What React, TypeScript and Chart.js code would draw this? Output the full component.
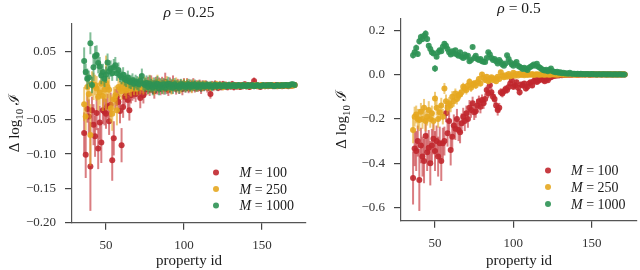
import React, { useEffect, useRef } from 'react';
import { Chart, registerables } from 'chart.js';
Chart.register(...registerables);

// ---------- DATA ----------
const FIRST_ID = 36;
const LAST_ID = 171;
const propertyIds: number[] = [];
for (let id = FIRST_ID; id <= LAST_ID; id++) propertyIds.push(id);

const seriesNames = ['100', '250', '1000'];
const xTickValues = [50, 100, 150];
const leftYTicks = [-0.2, -0.15, -0.1, -0.05, 0.0, 0.05];
const rightYTicks = [-0.6, -0.4, -0.2, 0.0, 0.2];

// rho = 0.25
const redL = [
  -0.069, -0.101, -0.034, -0.045, -0.118, -0.036, -0.057, -0.074, -0.040, -0.092,
  -0.054, -0.083, -0.036, -0.038, -0.041, -0.030, -0.052, -0.028, -0.109, -0.077,
  -0.020, -0.016, -0.024, -0.037, -0.087, -0.031, -0.016, -0.012, -0.021, -0.036,
  -0.014, -0.010, -0.008, -0.012, -0.005, -0.009, -0.018, -0.003, -0.014, -0.006,
  -0.004, 0.002, -0.006, 0.003, -0.002, -0.008, 0.004, -0.003, 0.001, -0.005,
  0.003, -0.004, 0.005, -0.002, -0.006, 0.002, -0.003, 0.004, -0.001, -0.004,
  0.002, -0.003, 0.001, -0.005, 0.003, -0.002, 0.002, -0.004, 0.001, -0.002,
  0.003, -0.003, 0.000, -0.002, 0.002, -0.004, 0.001, -0.001, 0.002, -0.003,
  -0.002, -0.012, 0.001, -0.002, 0.002, -0.001, -0.003, 0.001, -0.002, 0.002,
  -0.001, 0.001, -0.002, 0.000, -0.001, 0.002, -0.002, 0.001, -0.001, 0.000,
  -0.002, 0.001, -0.001, 0.002, -0.001, 0.000, -0.002, 0.001, 0.000, 0.007,
  0.001, -0.001, 0.000, -0.002, 0.001, 0.000, -0.001, 0.001, -0.001, 0.000,
  0.001, -0.001, 0.000, 0.001, -0.001, 0.000, 0.001, -0.001, 0.000, 0.001,
  0.000, -0.001, 0.001, 0.000, 0.001, 0.001,
];
const redLErr = [
  0.030, 0.034, 0.020, 0.025, 0.065, 0.020, 0.030, 0.030, 0.025, 0.030,
  0.025, 0.030, 0.020, 0.020, 0.022, 0.018, 0.020, 0.018, 0.030, 0.025,
  0.015, 0.014, 0.016, 0.018, 0.025, 0.016, 0.012, 0.012, 0.013, 0.015,
  0.012, 0.012, 0.011, 0.012, 0.011, 0.010, 0.015, 0.010, 0.012, 0.010,
  0.010, 0.011, 0.009, 0.012, 0.010, 0.011, 0.009, 0.010, 0.011, 0.009,
  0.010, 0.009, 0.014, 0.010, 0.009, 0.010, 0.009, 0.011, 0.008, 0.009,
  0.008, 0.009, 0.008, 0.009, 0.008, 0.008, 0.009, 0.007, 0.008, 0.008,
  0.008, 0.007, 0.008, 0.007, 0.007, 0.008, 0.007, 0.007, 0.006, 0.007,
  0.006, 0.007, 0.006, 0.006, 0.006, 0.006, 0.005, 0.006, 0.005, 0.005,
  0.005, 0.005, 0.005, 0.005, 0.005, 0.005, 0.005, 0.004, 0.005, 0.004,
  0.004, 0.004, 0.004, 0.004, 0.004, 0.004, 0.004, 0.004, 0.004, 0.005,
  0.004, 0.004, 0.004, 0.003, 0.004, 0.003, 0.003, 0.004, 0.003, 0.003,
  0.003, 0.003, 0.003, 0.003, 0.003, 0.003, 0.003, 0.003, 0.003, 0.003,
  0.003, 0.003, 0.003, 0.003, 0.003, 0.003,
];
const yellowL = [
  -0.027, -0.045, -0.002, -0.012, -0.072, 0.003, -0.001, 0.001, -0.004, -0.016,
  -0.010, 0.003, -0.015, -0.006, 0.004, -0.002, -0.006, -0.033, -0.041, -0.020,
  -0.014, -0.036, -0.002, -0.005, -0.008, 0.002, -0.004, -0.007, 0.001, -0.003,
  -0.005, 0.002, -0.003, 0.001, -0.004, 0.003, -0.002, 0.002, -0.003, 0.004,
  0.002, -0.003, 0.004, -0.001, 0.003, -0.004, 0.001, 0.005, -0.002, 0.002,
  -0.003, 0.003, -0.001, 0.004, -0.002, 0.001, -0.004, 0.002, 0.000, 0.003,
  -0.002, 0.002, -0.003, 0.001, 0.002, -0.002, 0.003, -0.001, 0.001, -0.003,
  0.002, 0.000, -0.002, 0.002, -0.001, 0.001, -0.002, 0.002, 0.000, -0.001,
  0.001, -0.002, 0.001, 0.000, -0.001, 0.002, -0.001, 0.001, 0.000, -0.002,
  0.001, 0.000, -0.001, 0.001, 0.000, -0.001, 0.001, 0.000, -0.001, 0.001,
  0.000, -0.001, 0.001, 0.000, -0.001, 0.001, 0.000, -0.001, 0.000, 0.001,
  0.000, 0.001, -0.001, 0.000, 0.001, 0.000, -0.001, 0.000, 0.001, 0.000,
  0.000, 0.001, 0.000, -0.001, 0.000, 0.001, 0.000, 0.000, 0.001, 0.000,
  0.001, 0.000, 0.000, 0.001, 0.000, 0.001,
];
const yellowLErr = [
  0.025, 0.020, 0.020, 0.018, 0.045, 0.018, 0.020, 0.015, 0.018, 0.020,
  0.018, 0.020, 0.022, 0.018, 0.040, 0.016, 0.018, 0.020, 0.025, 0.018,
  0.014, 0.022, 0.013, 0.012, 0.013, 0.012, 0.011, 0.012, 0.011, 0.011,
  0.011, 0.010, 0.011, 0.010, 0.010, 0.010, 0.010, 0.009, 0.010, 0.009,
  0.009, 0.010, 0.012, 0.009, 0.009, 0.010, 0.009, 0.011, 0.009, 0.008,
  0.009, 0.008, 0.009, 0.010, 0.008, 0.008, 0.009, 0.008, 0.008, 0.009,
  0.008, 0.007, 0.008, 0.007, 0.008, 0.007, 0.007, 0.007, 0.007, 0.008,
  0.007, 0.006, 0.007, 0.006, 0.006, 0.006, 0.006, 0.006, 0.006, 0.006,
  0.005, 0.006, 0.005, 0.005, 0.005, 0.005, 0.005, 0.005, 0.005, 0.005,
  0.005, 0.004, 0.004, 0.004, 0.004, 0.004, 0.004, 0.004, 0.004, 0.004,
  0.004, 0.004, 0.004, 0.004, 0.004, 0.004, 0.004, 0.003, 0.004, 0.003,
  0.003, 0.004, 0.003, 0.003, 0.003, 0.003, 0.003, 0.003, 0.003, 0.003,
  0.003, 0.003, 0.003, 0.003, 0.003, 0.003, 0.003, 0.003, 0.003, 0.003,
  0.003, 0.003, 0.003, 0.003, 0.003, 0.003,
];
const greenL = [
  0.036, 0.020, 0.010, 0.012, 0.062, 0.001, 0.027, 0.043, 0.045, 0.033,
  0.028, 0.015, 0.020, 0.010, 0.016, 0.034, 0.021, 0.025, 0.018, 0.027,
  0.030, 0.018, 0.023, 0.015, 0.012, 0.016, 0.010, 0.008, 0.012, 0.006,
  0.005, 0.008, 0.003, 0.006, 0.004, 0.002, 0.007, 0.014, 0.003, 0.001,
  0.004, -0.002, 0.003, 0.000, -0.003, 0.002, -0.001, 0.003, -0.004, 0.001,
  -0.002, 0.002, -0.003, 0.001, 0.003, -0.002, 0.001, -0.003, 0.002, -0.001,
  0.000, -0.003, 0.002, -0.001, 0.001, -0.002, 0.000, 0.002, -0.002, 0.001,
  -0.001, 0.002, -0.002, 0.000, 0.001, -0.002, 0.001, -0.001, 0.000, 0.001,
  -0.001, 0.001, -0.002, 0.000, 0.001, -0.001, 0.000, 0.001, -0.001, 0.000,
  0.001, -0.001, 0.000, 0.001, -0.001, 0.000, 0.001, -0.001, 0.000, 0.001,
  0.000, -0.001, 0.001, 0.000, -0.001, 0.001, 0.000, 0.000, 0.001, -0.001,
  0.000, 0.001, 0.000, -0.001, 0.000, 0.001, 0.000, 0.000, 0.001, 0.000,
  0.001, 0.000, -0.001, 0.000, 0.001, 0.000, 0.000, 0.001, 0.000, 0.001,
  0.001, 0.000, 0.001, 0.002, 0.002, 0.001,
];
const greenLErr = [
  0.020, 0.012, 0.015, 0.010, 0.016, 0.012, 0.020, 0.015, 0.014, 0.015,
  0.014, 0.013, 0.012, 0.012, 0.012, 0.013, 0.011, 0.012, 0.011, 0.012,
  0.012, 0.011, 0.011, 0.010, 0.010, 0.011, 0.010, 0.010, 0.010, 0.010,
  0.010, 0.010, 0.010, 0.010, 0.010, 0.010, 0.010, 0.011, 0.010, 0.010,
  0.011, 0.010, 0.012, 0.010, 0.011, 0.010, 0.010, 0.011, 0.010, 0.010,
  0.010, 0.009, 0.010, 0.009, 0.010, 0.009, 0.009, 0.009, 0.009, 0.009,
  0.008, 0.009, 0.008, 0.008, 0.008, 0.008, 0.008, 0.008, 0.007, 0.008,
  0.007, 0.007, 0.007, 0.007, 0.007, 0.007, 0.006, 0.007, 0.006, 0.006,
  0.006, 0.006, 0.006, 0.006, 0.005, 0.006, 0.005, 0.005, 0.005, 0.005,
  0.005, 0.005, 0.005, 0.005, 0.004, 0.005, 0.004, 0.004, 0.004, 0.004,
  0.004, 0.004, 0.004, 0.004, 0.004, 0.004, 0.004, 0.004, 0.003, 0.004,
  0.003, 0.003, 0.003, 0.003, 0.003, 0.003, 0.003, 0.003, 0.003, 0.003,
  0.003, 0.003, 0.003, 0.003, 0.003, 0.003, 0.003, 0.003, 0.003, 0.003,
  0.003, 0.003, 0.003, 0.003, 0.003, 0.003,
];

// rho = 0.5
const redR = [
  -0.466, -0.333, -0.345, -0.300, -0.475, -0.320, -0.370, -0.390, -0.277, -0.350,
  -0.330, -0.400, -0.320, -0.290, -0.345, -0.300, -0.370, -0.310, -0.390, -0.310,
  -0.300, -0.175, -0.265, -0.210, -0.340, -0.280, -0.230, -0.245, -0.200, -0.250,
  -0.260, -0.220, -0.190, -0.210, -0.175, -0.200, -0.150, -0.160, -0.130, -0.170,
  -0.165, -0.140, -0.120, -0.145, -0.115, -0.130, -0.110, -0.070, -0.085, -0.048,
  -0.080, -0.100, -0.110, -0.140, -0.160, -0.150, -0.080, -0.085, -0.075, -0.065,
  -0.070, -0.056, -0.040, -0.026, -0.055, -0.048, -0.035, -0.060, -0.080, -0.045,
  -0.050, -0.040, -0.063, -0.055, -0.040, -0.035, -0.050, -0.030, -0.020, -0.034,
  -0.028, -0.022, -0.020, -0.025, -0.030, -0.018, -0.026, -0.015, -0.012, -0.008,
  -0.005, -0.006, -0.003, -0.004, -0.002, -0.003, -0.001, -0.002, 0.000, -0.001,
  0.000, -0.001, 0.000, 0.001, 0.000, -0.001, 0.000, 0.000, 0.001, 0.000,
  0.000, 0.001, 0.000, -0.001, 0.000, 0.000, 0.001, 0.000, 0.000, 0.001,
  0.000, 0.000, 0.001, 0.000, 0.000, 0.001, 0.000, 0.000, 0.001, 0.000,
  0.000, 0.001, 0.000, 0.000, 0.001, 0.000,
];
const redRErr = [
  0.120, 0.080, 0.090, 0.070, 0.140, 0.080, 0.090, 0.100, 0.070, 0.085,
  0.080, 0.100, 0.075, 0.070, 0.090, 0.070, 0.090, 0.075, 0.090, 0.070,
  0.065, 0.040, 0.060, 0.050, 0.070, 0.055, 0.050, 0.050, 0.045, 0.050,
  0.050, 0.045, 0.040, 0.045, 0.035, 0.040, 0.035, 0.035, 0.030, 0.035,
  0.030, 0.030, 0.025, 0.030, 0.025, 0.025, 0.025, 0.020, 0.022, 0.018,
  0.020, 0.022, 0.022, 0.025, 0.025, 0.022, 0.018, 0.018, 0.016, 0.016,
  0.016, 0.014, 0.012, 0.012, 0.014, 0.013, 0.012, 0.014, 0.015, 0.012,
  0.012, 0.011, 0.013, 0.012, 0.010, 0.010, 0.011, 0.009, 0.008, 0.009,
  0.008, 0.008, 0.007, 0.008, 0.008, 0.007, 0.008, 0.006, 0.006, 0.005,
  0.004, 0.004, 0.004, 0.004, 0.004, 0.004, 0.004, 0.004, 0.004, 0.004,
  0.004, 0.004, 0.003, 0.003, 0.003, 0.003, 0.003, 0.003, 0.003, 0.003,
  0.003, 0.003, 0.003, 0.003, 0.003, 0.003, 0.003, 0.003, 0.003, 0.003,
  0.003, 0.003, 0.003, 0.003, 0.003, 0.003, 0.003, 0.003, 0.003, 0.003,
  0.003, 0.003, 0.003, 0.003, 0.003, 0.003,
];
const yellowR = [
  -0.250, -0.190, -0.180, -0.200, -0.205, -0.168, -0.200, -0.150, -0.210, -0.190,
  -0.160, -0.200, -0.175, -0.210, -0.108, -0.150, -0.200, -0.170, -0.140, -0.190,
  -0.063, -0.120, -0.150, -0.130, -0.140, -0.100, -0.120, -0.085, -0.110, -0.095,
  -0.090, -0.080, -0.055, -0.063, -0.070, -0.050, -0.033, -0.060, -0.045, -0.040,
  -0.050, -0.035, -0.020, -0.040, 0.000, -0.015, -0.025, -0.010, -0.030, -0.020,
  -0.012, -0.025, -0.018, -0.030, -0.010, -0.020, 0.010, -0.005, -0.012, -0.003,
  -0.010, 0.002, -0.008, -0.004, 0.008, -0.006, 0.002, -0.004, 0.003, -0.002,
  0.001, -0.003, 0.002, -0.002, 0.001, -0.001, 0.002, -0.002, 0.000, 0.001,
  0.000, -0.001, 0.001, 0.000, -0.001, 0.001, 0.000, -0.001, 0.000, 0.001,
  0.000, 0.000, -0.001, 0.000, 0.001, 0.000, 0.000, -0.001, 0.000, 0.000,
  0.001, 0.000, 0.000, 0.000, -0.001, 0.000, 0.001, 0.000, 0.000, 0.000,
  0.000, 0.001, 0.000, 0.000, 0.000, 0.001, 0.000, 0.000, 0.000, 0.001,
  0.000, 0.000, 0.001, 0.000, 0.000, 0.000, 0.001, 0.000, 0.000, 0.000,
  0.001, 0.000, 0.000, 0.000, 0.001, 0.000,
];
const yellowRErr = [
  0.060, 0.045, 0.040, 0.045, 0.050, 0.040, 0.045, 0.040, 0.045, 0.040,
  0.040, 0.040, 0.035, 0.040, 0.030, 0.035, 0.040, 0.035, 0.035, 0.035,
  0.025, 0.030, 0.030, 0.028, 0.030, 0.025, 0.025, 0.022, 0.025, 0.022,
  0.022, 0.020, 0.018, 0.020, 0.020, 0.018, 0.016, 0.018, 0.016, 0.015,
  0.015, 0.014, 0.012, 0.014, 0.012, 0.012, 0.013, 0.011, 0.012, 0.011,
  0.010, 0.011, 0.010, 0.011, 0.010, 0.010, 0.010, 0.009, 0.009, 0.008,
  0.008, 0.007, 0.008, 0.007, 0.008, 0.007, 0.006, 0.006, 0.006, 0.006,
  0.005, 0.005, 0.005, 0.005, 0.005, 0.004, 0.004, 0.004, 0.004, 0.004,
  0.003, 0.003, 0.003, 0.003, 0.003, 0.003, 0.003, 0.003, 0.003, 0.003,
  0.003, 0.003, 0.003, 0.003, 0.003, 0.003, 0.003, 0.003, 0.003, 0.003,
  0.003, 0.003, 0.003, 0.003, 0.003, 0.003, 0.003, 0.003, 0.003, 0.003,
  0.003, 0.003, 0.003, 0.003, 0.003, 0.003, 0.003, 0.003, 0.003, 0.003,
  0.003, 0.003, 0.003, 0.003, 0.003, 0.003, 0.003, 0.003, 0.003, 0.003,
  0.003, 0.003, 0.003, 0.003, 0.003, 0.003,
];
const greenR = [
  0.087, 0.100, 0.120, 0.092, 0.150, 0.169, 0.160, 0.175, 0.184, 0.160,
  0.130, 0.115, 0.100, 0.095, 0.027, 0.080, 0.100, 0.110, 0.105, 0.125,
  0.139, 0.130, 0.115, 0.100, 0.090, 0.105, 0.095, 0.110, 0.090, 0.085,
  0.100, 0.080, 0.075, 0.090, 0.080, 0.085, 0.060, 0.065, 0.124, 0.075,
  0.085, 0.070, 0.065, 0.070, 0.060, 0.058, 0.057, 0.075, 0.100, 0.090,
  0.075, 0.065, 0.070, 0.060, 0.050, 0.065, 0.055, 0.045, 0.040, 0.050,
  0.087, 0.070, 0.055, 0.045, 0.040, 0.050, 0.057, 0.040, 0.035, 0.030,
  0.025, 0.030, 0.025, 0.020, 0.030, 0.035, 0.040, 0.045, 0.040, 0.049,
  0.035, 0.030, 0.025, 0.020, 0.018, 0.022, 0.015, 0.020, 0.027, 0.015,
  0.012, 0.010, 0.012, 0.008, 0.010, 0.006, 0.008, 0.005, 0.006, 0.004,
  0.008, 0.004, 0.003, 0.004, 0.002, 0.003, 0.002, 0.003, 0.001, 0.002,
  0.001, 0.002, 0.001, 0.001, 0.002, 0.001, 0.001, 0.000, 0.001, 0.001,
  0.000, 0.001, 0.001, 0.000, 0.001, 0.000, 0.001, 0.000, 0.000, 0.001,
  0.000, 0.000, 0.001, 0.000, 0.000, 0.000,
];
const greenRErr = [
  0.015, 0.012, 0.015, 0.012, 0.015, 0.015, 0.014, 0.015, 0.016, 0.014,
  0.012, 0.012, 0.011, 0.011, 0.015, 0.010, 0.010, 0.011, 0.010, 0.011,
  0.011, 0.010, 0.010, 0.009, 0.009, 0.009, 0.009, 0.009, 0.008, 0.008,
  0.008, 0.008, 0.007, 0.008, 0.007, 0.007, 0.007, 0.007, 0.008, 0.007,
  0.007, 0.006, 0.006, 0.006, 0.006, 0.006, 0.006, 0.006, 0.007, 0.006,
  0.006, 0.005, 0.005, 0.005, 0.005, 0.005, 0.005, 0.005, 0.005, 0.005,
  0.006, 0.005, 0.005, 0.004, 0.004, 0.004, 0.005, 0.004, 0.004, 0.004,
  0.004, 0.004, 0.004, 0.004, 0.004, 0.004, 0.004, 0.004, 0.004, 0.004,
  0.004, 0.004, 0.004, 0.003, 0.003, 0.003, 0.003, 0.003, 0.003, 0.003,
  0.003, 0.003, 0.003, 0.003, 0.003, 0.003, 0.003, 0.003, 0.003, 0.003,
  0.003, 0.003, 0.003, 0.003, 0.003, 0.003, 0.003, 0.003, 0.003, 0.003,
  0.003, 0.003, 0.003, 0.003, 0.003, 0.003, 0.003, 0.003, 0.003, 0.003,
  0.003, 0.003, 0.003, 0.003, 0.003, 0.003, 0.003, 0.003, 0.003, 0.003,
  0.003, 0.003, 0.003, 0.003, 0.003, 0.003,
];

// ---------- STYLE ----------
const RGB = {
  red: '193,39,45',
  yellow: '229,167,32',
  green: '46,146,84',
};
const FONT = '"Liberation Serif", "DejaVu Serif", serif';
const W = 320;
const H = 270;

type Part = { t: string; italic?: boolean; sub?: boolean };
function fontFor(p: Part, size: number) {
  return `${p.italic ? 'italic ' : ''}${p.sub ? Math.round(size * 0.7) : size}px ${FONT}`;
}
function drawRich(ctx: CanvasRenderingContext2D, parts: Part[], x: number, y: number, size: number, align: 'left' | 'center') {
  let w = 0;
  for (const p of parts) { ctx.font = fontFor(p, size); w += ctx.measureText(p.t).width; }
  let cx = align === 'center' ? x - w / 2 : x;
  ctx.textAlign = 'left';
  ctx.textBaseline = 'alphabetic';
  for (const p of parts) {
    ctx.font = fontFor(p, size);
    ctx.fillText(p.t, cx, p.sub ? y + size * 0.25 : y);
    cx += ctx.measureText(p.t).width;
  }
}

const errorBarPlugin = {
  id: 'errorBars',
  beforeDatasetDraw(chart: any, args: any) {
    const ds = chart.data.datasets[args.index];
    const meta = args.meta;
    const ys = chart.scales.y;
    const ctx = chart.ctx;
    ctx.save();
    ctx.strokeStyle = `rgba(${ds.rgb},0.6)`;
    ctx.lineWidth = 2;
    meta.data.forEach((pt: any, i: number) => {
      const d = ds.data[i];
      const top = ys.getPixelForValue(d.y + d.e);
      const bot = ys.getPixelForValue(d.y - d.e);
      ctx.beginPath();
      ctx.moveTo(pt.x, top);
      ctx.lineTo(pt.x, bot);
      ctx.stroke();
    });
    ctx.restore();
  },
};

type PanelCfg = {
  offsetX: number;
  L: number; R: number; T: number; B: number;
  xMin: number; xMax: number; yMin: number; yMax: number;
  yTicks: number[]; decimals: number;
  rhoText: string; titleY: number; ylabelX: number;
  legendMarkerX: number; legendTextX: number; legendRows: number[];
  red: number[]; redErr: number[]; yellow: number[]; yellowErr: number[]; green: number[]; greenErr: number[];
};

const leftCfg: PanelCfg = {
  offsetX: 0, L: 72, R: 306, T: 23.5, B: 222.7,
  xMin: 28.2, xMax: 178.3, yMin: -0.2003, yMax: 0.0909,
  yTicks: leftYTicks, decimals: 2,
  rhoText: ' = 0.25', titleY: 12, ylabelX: 14,
  legendMarkerX: 216, legendTextX: 239.5, legendRows: [172.5, 189, 205.5],
  red: redL, redErr: redLErr, yellow: yellowL, yellowErr: yellowLErr, green: greenL, greenErr: greenLErr,
};
const rightCfg: PanelCfg = {
  offsetX: 320, L: 81, R: 319, T: 18.3, B: 220.7,
  xMin: 28.3, xMax: 178.9, yMin: -0.659, yMax: 0.2535,
  yTicks: rightYTicks, decimals: 1,
  rhoText: ' = 0.5', titleY: 8, ylabelX: 21,
  legendMarkerX: 228, legendTextX: 251, legendRows: [170.5, 187, 204],
  red: redR, redErr: redRErr, yellow: yellowR, yellowErr: yellowRErr, green: greenR, greenErr: greenRErr,
};

function fmt(v: number, dec: number) {
  const s = Math.abs(v) < 1e-9 ? (0).toFixed(dec) : v.toFixed(dec);
  return s.replace('-', '\u2212');
}

function Panel({ cfg }: { cfg: PanelCfg }) {
  const ref = useRef<HTMLCanvasElement>(null);
  useEffect(() => {
    const mk = (vals: number[], errs: number[]) => propertyIds.map((id, i) => ({ x: id, y: vals[i], e: errs[i] }));
    const series = [
      { key: 'green', rgb: RGB.green, vals: cfg.green, errs: cfg.greenErr, label: 'M = 1000' },
      { key: 'yellow', rgb: RGB.yellow, vals: cfg.yellow, errs: cfg.yellowErr, label: 'M = 250' },
      { key: 'red', rgb: RGB.red, vals: cfg.red, errs: cfg.redErr, label: 'M = 100' },
    ];
    const legendOrder = [RGB.red, RGB.yellow, RGB.green];

    const annotPlugin = {
      id: 'annot',
      afterDraw(chart: any) {
        const ctx = chart.ctx as CanvasRenderingContext2D;
        const a = chart.chartArea;
        const cx = (a.left + a.right) / 2;
        ctx.save();
        ctx.fillStyle = '#1a1a1a';
        drawRich(ctx, [{ t: '\u03c1', italic: true }, { t: cfg.rhoText }], cx, cfg.titleY + 5, 15.5, 'center');
        drawRich(ctx, [{ t: 'property id' }], cx, 265, 15, 'center');
        ctx.save();
        ctx.translate(cfg.ylabelX, (a.top + a.bottom) / 2);
        ctx.rotate(-Math.PI / 2);
        drawRich(ctx, [{ t: '\u0394 log' }, { t: '10', sub: true }, { t: ' \u2110' }], 0, 5, 15, 'center');
        ctx.restore();
        for (let i = 0; i < 3; i++) {
          const y = cfg.legendRows[i];
          ctx.beginPath();
          ctx.fillStyle = `rgba(${legendOrder[i]},0.9)`;
          ctx.arc(cfg.legendMarkerX, y, 3, 0, Math.PI * 2);
          ctx.fill();
          ctx.fillStyle = '#1a1a1a';
          drawRich(ctx, [{ t: 'M', italic: true }, { t: ' = ' + seriesNames[i] }], cfg.legendTextX, y + 4.5, 14, 'left');
        }
        ctx.restore();
      },
    };

    const tickFont = { family: FONT, size: 13 };
    const chart = new Chart(ref.current as HTMLCanvasElement, {
      type: 'scatter',
      data: {
        datasets: series.map((s) => ({
          label: s.label,
          rgb: s.rgb,
          data: mk(s.vals, s.errs),
          backgroundColor: `rgba(${s.rgb},0.9)`,
          borderColor: `rgba(${s.rgb},1)`,
          borderWidth: 0,
          pointRadius: 3,
          pointHoverRadius: 3,
        })) as any,
      },
      options: {
        animation: false,
        responsive: false,
        events: [],
        layout: { padding: { top: cfg.T, right: W - cfg.R, left: 0, bottom: 0 } },
        plugins: { legend: { display: false }, title: { display: false }, tooltip: { enabled: false } },
        scales: {
          x: {
            type: 'linear',
            min: cfg.xMin,
            max: cfg.xMax,
            afterBuildTicks: (s: any) => { s.ticks = xTickValues.map((v) => ({ value: v })); },
            afterFit: (s: any) => { s.height = H - cfg.B; },
            ticks: { autoSkip: false, maxRotation: 0, padding: 8, color: '#333', font: tickFont, callback: (v: any) => String(v) },
            grid: { drawOnChartArea: false, drawTicks: true, tickLength: 7, color: '#444', lineWidth: 1.2 },
            border: { display: true, color: '#555', width: 1.2 },
          },
          y: {
            type: 'linear',
            min: cfg.yMin,
            max: cfg.yMax,
            afterBuildTicks: (s: any) => { s.ticks = cfg.yTicks.map((v) => ({ value: v })); },
            afterFit: (s: any) => { s.width = cfg.L; },
            ticks: { autoSkip: false, padding: 9, color: '#333', font: tickFont, callback: (v: any) => fmt(Number(v), cfg.decimals) },
            grid: { drawOnChartArea: false, drawTicks: true, tickLength: 7, color: '#444', lineWidth: 1.2 },
            border: { display: true, color: '#555', width: 1.2 },
          },
        },
      } as any,
      plugins: [errorBarPlugin, annotPlugin],
    });
    return () => chart.destroy();
  }, [cfg]);
  return (
    <canvas
      ref={ref}
      width={W}
      height={H}
      style={{ position: 'absolute', left: cfg.offsetX, top: 0, width: W, height: H }}
    />
  );
}

export default function App() {
  return (
    <div style={{ position: 'absolute', left: 0, top: 0, width: 640, height: 270, background: '#fff' }}>
      <Panel cfg={leftCfg} />
      <Panel cfg={rightCfg} />
    </div>
  );
}
